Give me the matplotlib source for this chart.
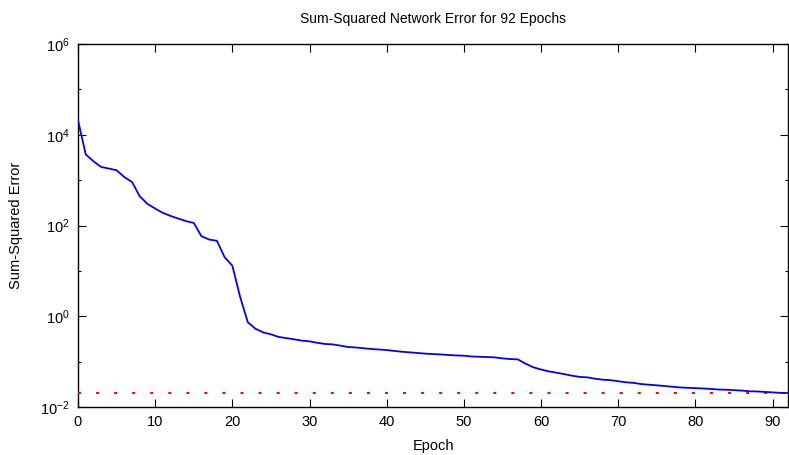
import matplotlib
matplotlib.use("Agg")
import matplotlib.pyplot as plt
import numpy as np
from matplotlib.ticker import FixedLocator, NullFormatter, LogFormatterMathtext

plt.rcParams['font.family'] = ['Liberation Sans', 'DejaVu Sans']
plt.rcParams['mathtext.fontset'] = 'custom'
plt.rcParams['mathtext.rm'] = 'Liberation Sans'
plt.rcParams['mathtext.it'] = 'Liberation Sans'
plt.rcParams['lines.scale_dashes'] = False

epochs = list(range(0, 93))
sse = [21000, 3700, 2600, 1950, 1800, 1650, 1170, 910, 440, 300,
       236, 190, 162, 142, 125, 114, 58, 49, 46, 20,
       13, 2.7, 0.74, 0.53, 0.44, 0.40, 0.35, 0.33, 0.31, 0.29,
       0.28, 0.26, 0.245, 0.24, 0.225, 0.21, 0.205, 0.197, 0.19, 0.185,
       0.18, 0.172, 0.165, 0.16, 0.155, 0.15, 0.147, 0.144, 0.14, 0.137,
       0.135, 0.13, 0.128, 0.126, 0.124, 0.118, 0.114, 0.112, 0.09, 0.075,
       0.067, 0.061, 0.057, 0.053, 0.049, 0.046, 0.045, 0.042, 0.040, 0.039,
       0.037, 0.035, 0.034, 0.032, 0.031, 0.030, 0.029, 0.028, 0.027, 0.0265,
       0.026, 0.0256, 0.025, 0.0243, 0.024, 0.0235, 0.023, 0.0222, 0.022, 0.0215,
       0.021, 0.0205, 0.0203]
goal = 0.02
xticks = [0, 10, 20, 30, 40, 50, 60, 70, 80, 90]
title = "Sum-Squared Network Error for 92 Epochs"

fig = plt.figure(figsize=(7.89, 4.55), dpi=100)
ax = fig.add_axes([78/789, 1-407/455, (788-78)/789, (407-44)/455])

ax.plot([epochs[0], epochs[-1]], [goal, goal], color='#ff0000', lw=1.4,
        linestyle=(0, (2.2, 10.8)), zorder=3)
ax.plot(epochs, sse, color='#0000ff', lw=1.3, zorder=4)

ax.set_yscale('log')
ax.set_xlim(0, 92)
ax.set_ylim(1e-2, 1e6)
ax.yaxis.set_major_locator(FixedLocator([1e-2, 1e0, 1e2, 1e4, 1e6]))
ax.yaxis.set_major_formatter(LogFormatterMathtext())
ax.yaxis.set_minor_locator(FixedLocator([1e-1, 1e1, 1e3, 1e5]))
ax.yaxis.set_minor_formatter(NullFormatter())
ax.set_xticks(xticks)

ax.tick_params(which='both', direction='in', top=True, right=True, labelsize=10.5, colors='black')
ax.tick_params(which='major', length=5.8, width=0.8, pad=6)
ax.tick_params(which='minor', length=2.5, width=0.8)
for s in ax.spines.values():
    s.set_linewidth(1.0)

ax.set_title(title, fontsize=10, pad=15)
ax.set_xlabel("Epoch", fontsize=10.5, labelpad=7)
ax.set_ylabel("Sum-Squared Error", fontsize=10.5, labelpad=12)

fig.savefig("out.png", dpi=100)
